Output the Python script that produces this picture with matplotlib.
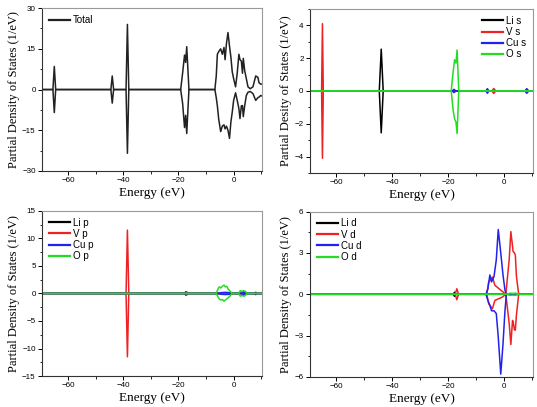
import numpy as np
import matplotlib
matplotlib.use("Agg")
import matplotlib.pyplot as plt
from matplotlib.ticker import MultipleLocator, AutoMinorLocator

# ---- data (energy in eV, DOS in 1/eV, spin up / spin down) ----
e_total = [-70, -66, -65.5, -65, -64.5, -64, -45, -44.5, -44, -43.5, -43, -39.5, -39,
           -38.5, -38, -37.5, -20, -19.2, -18.5, -17.8, -17.4, -17.0, -16.2, -15, -6.8,
           -6.3, -5.9, -5.4, -4.7, -4.1, -3.5, -3.1, -2.6, -2.05, -1.5, -1.0, -0.5, 0.0,
           0.7, 1.3, 1.9, 2.3, 2.8, 3.2, 3.5, 4.0, 4.6, 5.2, 6.0, 7.0, 8.0, 8.8, 9.2,
           9.8, 10.5]
up_total = [0, 0, 0, 8.5, 0, 0, 0, 0, 5, 0, 0, 0, 0, 24, 0, 0, 0, 0, 6, 12.7, 10, 15.8,
            0, 0, 0, 5, 13, 14, 15, 13, 15.5, 11, 17, 21, 16, 12, 6.5, 4, 1, 6, 13, 11,
            10.5, 6, 11.5, 7, 4, 1, 0.3, 1, 5, 4.5, 2.5, 2, 2]
dn_total = [0, 0, 0, -8.5, 0, 0, 0, 0, -5, 0, 0, 0, 0, -23.5, 0, 0, 0, 0, -5, -14, -9.5,
            -16.2, 0, 0, 0, -3, -6, -11, -15.5, -13.5, -13, -14.5, -13.5, -15, -18, -12,
            -8.3, -4, -1.2, -4, -7, -10.7, -6, -5.9, -10, -6, -2.2, -1, -0.7, -1.5, -4,
            -3, -2.8, -2.2, -2.5]

# s states
e_li_s = [-70, -44.7, -44, -43.3, 10.5]
up_li_s = [0, 0, 2.55, 0, 0]
dn_li_s = [0, 0, -2.55, 0, 0]
e_v_s = [-70, -65.3, -65, -64.7, -18.6, -18, -17.4, -4.5, -3.8, -3.1, 10.5]
up_v_s = [0, 0, 4.1, 0, 0, 0.08, 0, 0, 0.15, 0, 0]
dn_v_s = [0, 0, -4.1, 0, 0, -0.08, 0, 0, -0.15, 0, 0]
e_cu_s = [-70, -18.6, -18, -17.4, -6.6, -6.1, -5.5, 7.3, 8, 8.7, 10.5]
up_cu_s = [0, 0, 0.1, 0, 0, 0.14, 0, 0, 0.14, 0, 0]
dn_cu_s = [0, 0, -0.1, 0, 0, -0.14, 0, 0, -0.14, 0, 0]
e_o_s = [-70, -19, -18.3, -17.8, -17.3, -16.9, -16.3, 10.5]
up_o_s = [0, 0, 1.2, 1.9, 1.7, 2.5, 0, 0]
dn_o_s = [0, 0, -1.2, -1.7, -1.9, -2.6, 0, 0]

# p states
e_li_p = [-70, -17.8, -17.3, -16.8, 3.0, 3.5, 4.0, 7.5, 8.0, 8.5, 10.5]
up_li_p = [0, 0, 0.3, 0, 0, 0.3, 0, 0, 0.2, 0, 0]
dn_li_p = [0, 0, -0.3, 0, 0, -0.3, 0, 0, -0.2, 0, 0]
e_v_p = [-70, -39, -38.5, -38, -17.5, -17, -16.5, 10.5]
up_v_p = [0, 0, 11.5, 0, 0, 0.3, 0, 0]
dn_v_p = [0, 0, -11.5, 0, 0, -0.3, 0, 0]
e_cu_p = [-70, -5.5, -4.5, -3, -1.5, -0.8, 2.8, 3.5, 4.2, 10.5]
up_cu_p = [0, 0, 0.15, 0.2, 0.15, 0, 0, 0.25, 0, 0]
dn_cu_p = [0, 0, -0.15, -0.2, -0.15, 0, 0, -0.25, 0, 0]
e_o_p = [-70, -6.3, -5.7, -5.2, -4.6, -4.1, -3.5, -3.0, -2.5, -2.0, -1.4, -0.6, 1.8,
         2.4, 3.0, 3.6, 4.2, 5.0, 10.5]
up_o_p = [0, 0, 0.8, 1.2, 1.0, 1.3, 1.5, 1.2, 1.3, 0.8, 0.5, 0, 0, 0.5, 0.35, 0.5, 0.4,
          0, 0]
dn_o_p = [0, 0, -0.6, -1.0, -1.2, -1.1, -1.4, -1.2, -1.0, -0.8, -0.5, 0, 0, -0.5, -0.35,
          -0.5, -0.4, 0, 0]

# d states
e_li_d = [-70, -18.3, -17.8, -17.3, 10.5]
up_li_d = [0, 0, 0.15, 0, 0]
dn_li_d = [0, 0, -0.15, 0, 0]
e_v_d = [-70, -17.6, -17.0, -16.4, -6.3, -5.6, -4.3, -3.4, -0.7, 0.5, 1.7, 2.3, 2.9,
         3.1, 3.6, 3.9, 4.3, 5.1, 10.5]
up_v_d = [0, 0, 0.4, 0, 0, 0.9, 1.25, 0.65, 0.2, 0, 2.5, 4.55, 3.5, 3.1, 3.0, 2.85,
          1.3, 0, 0]
dn_v_d = [0, 0, -0.4, 0, 0, -0.7, -1.05, -0.45, -0.2, 0, -2.1, -3.65, -1.9, -2.0, -2.6,
          -2.6, -1.5, 0, 0]
e_cu_d = [-70, -6.6, -5.9, -5.2, -4.6, -3.7, -2.9, -2.2, -1.3, -0.5, 0.2, 0.7, 10.5]
up_cu_d = [0, 0, 0.4, 1.4, 0.9, 1.3, 2.5, 4.7, 3.0, 1.4, 0.3, 0, 0]
dn_cu_d = [0, 0, -0.45, -0.8, -1.2, -1.2, -1.4, -3.1, -5.8, -3.6, -1.2, 0, 0]
e_o_d = [-70, 0.8, 2.0, 3.0, 4.0, 5.0, 10.5]
up_o_d = [0, 0, 0.08, 0.06, 0.08, 0, 0]
dn_o_d = [0, 0, -0.08, -0.06, -0.08, 0, 0]

colors = ["black", "#ee2222", "#2222ee", "#22dd22"]
serif = "Liberation Serif"
sans = "Liberation Sans"

fig = plt.figure(figsize=(5.37, 4.07), dpi=100)
ax1 = fig.add_axes([0.078, 0.580, 0.410, 0.400])
ax2 = fig.add_axes([0.577, 0.575, 0.416, 0.403])
ax3 = fig.add_axes([0.078, 0.076, 0.410, 0.406])
ax4 = fig.add_axes([0.577, 0.074, 0.416, 0.406])


def style(ax, ylim, ystep, ylabel):
    ax.set_xlim(-69.5, 10.3)
    ax.set_ylim(*ylim)
    ax.xaxis.set_major_locator(MultipleLocator(20))
    ax.xaxis.set_minor_locator(AutoMinorLocator(2))
    ax.yaxis.set_major_locator(MultipleLocator(ystep))
    ax.yaxis.set_minor_locator(AutoMinorLocator(2))
    ax.tick_params(which="major", direction="out", length=3, width=0.7,
                   labelsize=5.8, pad=1.5, top=False, right=False)
    ax.tick_params(which="minor", direction="out", length=1.8, width=0.6,
                   top=False, right=False)
    for lab in ax.get_xticklabels() + ax.get_yticklabels():
        lab.set_fontfamily(sans)
    for side in ["left", "bottom"]:
        ax.spines[side].set_color("#333333")
        ax.spines[side].set_linewidth(0.8)
    for side in ["top", "right"]:
        ax.spines[side].set_color("#999999")
        ax.spines[side].set_linewidth(0.8)
    ax.set_xlabel("Energy (eV)", fontfamily=serif, fontsize=9.5, labelpad=2)
    ax.set_ylabel(ylabel, fontfamily=serif, fontsize=9, labelpad=1.5)


def pdos(ax, series, labels, loc):
    for (e, up, dn), lab, c in zip(series, labels, colors):
        ax.plot(e, up, color=c, lw=1.1, label=lab)
        ax.plot(e, dn, color=c, lw=1.1)
    leg = ax.legend(loc=loc, frameon=False, prop={"family": sans, "size": 7},
                    handlelength=2.2, handletextpad=0.3, labelspacing=0.12,
                    borderaxespad=0.3)
    for h in leg.legend_handles:
        h.set_linewidth(1.6)


# total
ax1.plot(e_total, up_total, color="#222222", lw=1.1, label="Total")
ax1.plot(e_total, dn_total, color="#222222", lw=1.1)
leg = ax1.legend(loc="upper left", frameon=False, prop={"family": sans, "size": 7},
                 handlelength=2.2, handletextpad=0.3, borderaxespad=0.3)
leg.legend_handles[0].set_linewidth(1.6)
style(ax1, (-30, 30), 15, "Partial Density of States (1/eV)")

pdos(ax2, [(e_li_s, up_li_s, dn_li_s), (e_v_s, up_v_s, dn_v_s),
           (e_cu_s, up_cu_s, dn_cu_s), (e_o_s, up_o_s, dn_o_s)],
     ["Li s", "V s", "Cu s", "O s"], "upper right")
style(ax2, (-5, 5), 2, "Partial Desity of States (1/eV)")

pdos(ax3, [(e_li_p, up_li_p, dn_li_p), (e_v_p, up_v_p, dn_v_p),
           (e_cu_p, up_cu_p, dn_cu_p), (e_o_p, up_o_p, dn_o_p)],
     ["Li p", "V p", "Cu p", "O p"], "upper left")
style(ax3, (-15, 15), 5, "Partial Density of States (1/eV)")

pdos(ax4, [(e_li_d, up_li_d, dn_li_d), (e_v_d, up_v_d, dn_v_d),
           (e_cu_d, up_cu_d, dn_cu_d), (e_o_d, up_o_d, dn_o_d)],
     ["Li d", "V d", "Cu d", "O d"], "upper left")
style(ax4, (-6, 6), 3, "Partial Density of States (1/eV)")

fig.savefig("out.png", dpi=100)
